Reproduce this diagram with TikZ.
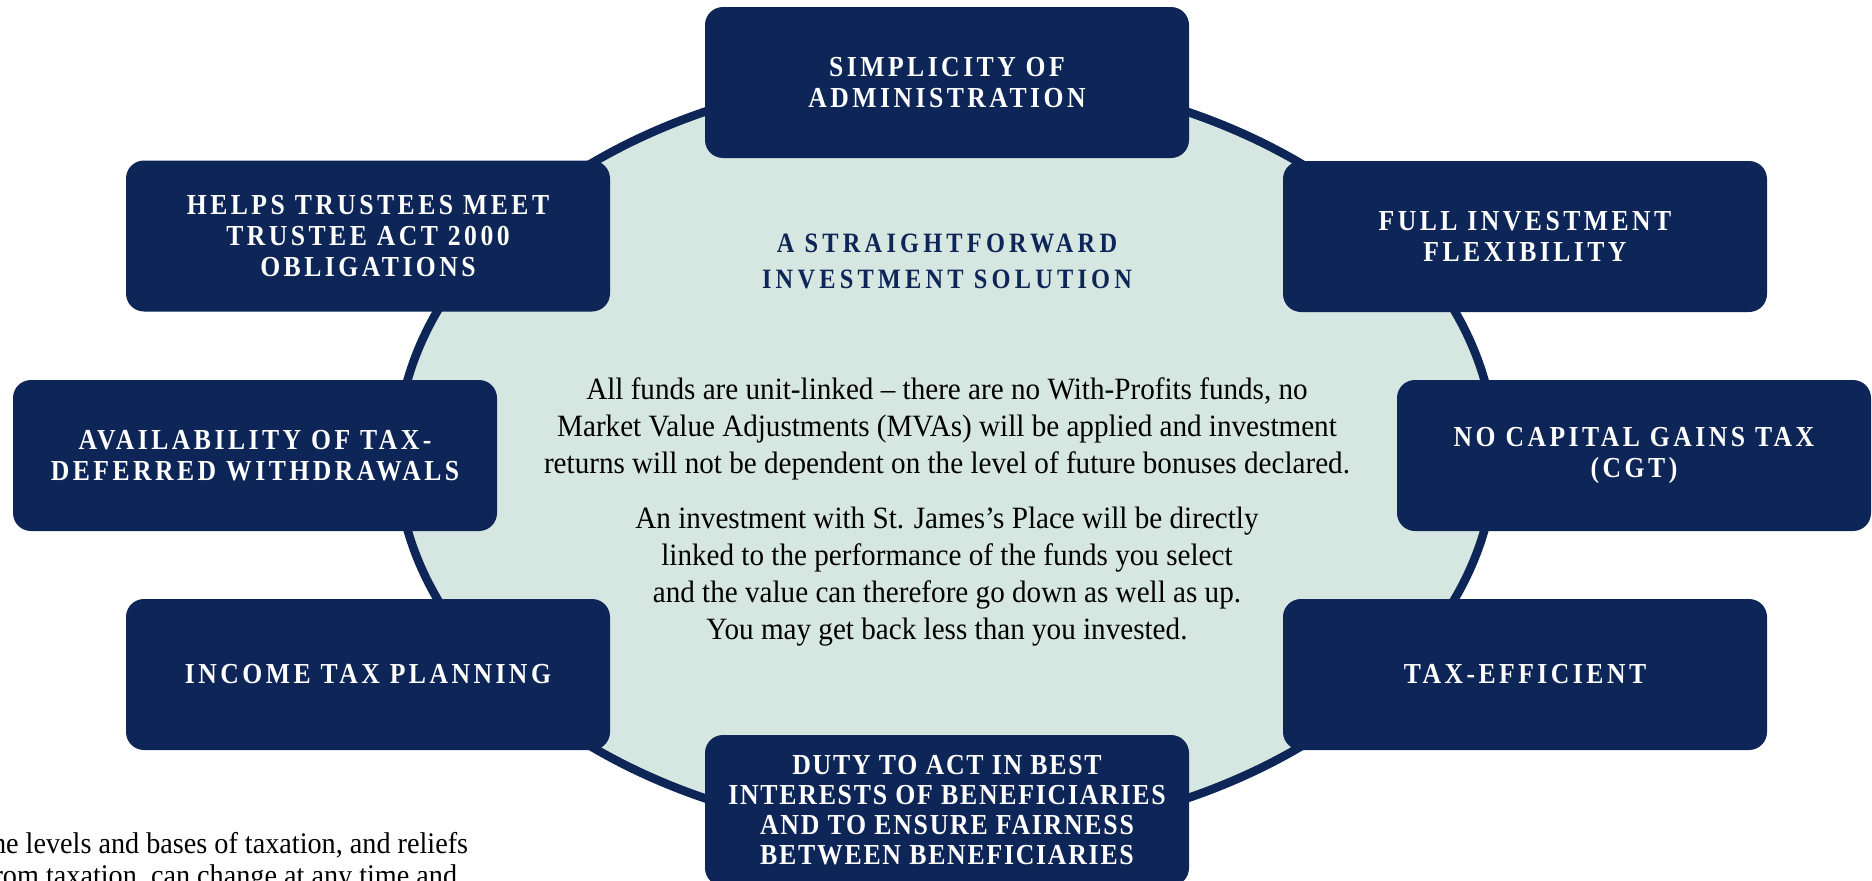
\documentclass[tikz,border=0pt]{standalone}
\usepackage{fontspec}
\setmainfont{Liberation Serif}
\newfontfamily\labelfont[LetterSpace=12,FakeStretch=0.885]{Liberation Serif}
\newfontfamily\dutyfont[LetterSpace=6,FakeStretch=0.89]{Liberation Serif}
\newfontfamily\headfont[LetterSpace=15,FakeStretch=0.87]{Liberation Serif}
\newfontfamily\bodyfont[FakeStretch=0.94]{Liberation Serif}
\usetikzlibrary{shapes.geometric}
\definecolor{navy}{HTML}{0D2557}
\definecolor{mint}{HTML}{D6E6E0}
\tikzset{
  box/.style={fill=navy, rounded corners=18pt, minimum width=484pt, minimum height=151pt,
    inner sep=0pt, align=center, text=white,
    font=\labelfont\bfseries\fontsize{29}{31}\selectfont},
  bodytext/.style={align=center, text=black, inner sep=0pt,
    font=\bodyfont\fontsize{31}{37}\selectfont},
}
\begin{document}
\begin{tikzpicture}[x=1pt,y=-1pt]
\useasboundingbox (0,0) rectangle (1872,881);
\clip (0,0) rectangle (1872,881);
\fill[white] (0,0) rectangle (1872,881);
\node (oval) [ellipse, draw=navy, line width=8.5pt, fill=mint, minimum width=1098pt,
  minimum height=764pt, inner sep=0pt] at (946,455) {};
\node (top) [box] at (947,82.5) {SIMPLICITY OF\\ADMINISTRATION};
\node (helps) [box] at (368,236) {HELPS TRUSTEES MEET\\TRUSTEE ACT 2000\\OBLIGATIONS};
\node (flex) [box] at (1525,236.5) {FULL INVESTMENT\\FLEXIBILITY};
\node (avail) [box] at (255,455.5) {AVAILABILITY OF TAX-\\DEFERRED WITHDRAWALS};
\node (cgt) [box, minimum width=474pt] at (1634,455.5) {NO CAPITAL GAINS TAX\\(CGT)};
\node (income) [box] at (368,674.5) {INCOME TAX PLANNING};
\node (taxeff) [box] at (1525,674.5) {TAX-EFFICIENT};
\node (duty) [box, font=\dutyfont\bfseries\fontsize{29}{30}\selectfont] at (947,810.5)
  {DUTY TO ACT IN BEST\\INTERESTS OF BENEFICIARIES\\AND TO ENSURE FAIRNESS\\BETWEEN BENEFICIARIES};
\node (head) [align=center, text=navy, inner sep=0pt,
  font=\headfont\bfseries\fontsize{28}{36}\selectfont] at (947,261)
  {A STRAIGHTFORWARD\\INVESTMENT SOLUTION};
\node (body1) [bodytext] at (947,429)
  {All funds are unit-linked – there are no With-Profits funds, no\\
   Market Value Adjustments (MVAs) will be applied and investment\\
   returns will not be dependent on the level of future bonuses declared.};
\node (body2) [bodytext] at (947,577)
  {An investment with St. James’s Place will be directly\\
   linked to the performance of the funds you select\\
   and the value can therefore go down as well as up.\\
   You may get back less than you invested.};
\node (note) [anchor=base west, align=left, inner sep=0pt, text=black,
  font=\bodyfont\fontsize{30}{32}\selectfont] at (-16,885)
  {the levels and bases of taxation, and reliefs\\from taxation, can change at any time and};
\end{tikzpicture}
\end{document}
